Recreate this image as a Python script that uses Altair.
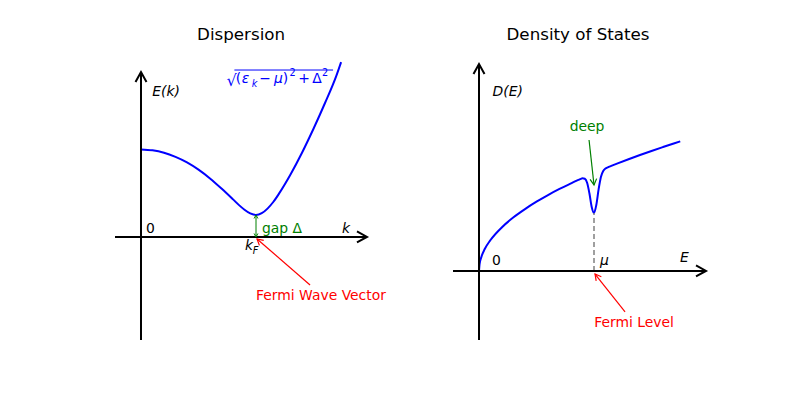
import math
import altair as alt
import pandas as pd

# ---------------- data ----------------
# Dispersion: k in units of k_F, E in units of the gap Δ
disp_k = [0.0, 0.1, 0.2, 0.3, 0.4, 0.5, 0.6, 0.7, 0.8, 0.85, 0.9, 0.95, 1.0,
          1.05, 1.1, 1.15, 1.2, 1.3, 1.4, 1.5, 1.6, 1.7, 1.74]
disp_E = [3.98, 3.94, 3.83, 3.64, 3.39, 3.06, 2.66, 2.20, 1.71, 1.46, 1.24, 1.07, 1.0,
          1.08, 1.29, 1.59, 1.97, 2.84, 3.83, 4.92, 6.09, 7.35, 7.95]

# Density of states: E in units of μ
dos_E = [0, 0.005, 0.02, 0.05, 0.1, 0.2, 0.3, 0.4, 0.5, 0.6, 0.7, 0.8, 0.85, 0.88,
         0.9, 0.92, 0.94, 0.96, 0.98, 1.0, 1.02, 1.04, 1.06, 1.08, 1.1, 1.12, 1.15,
         1.2, 1.3, 1.4, 1.5, 1.6, 1.7, 1.75]
dos_D = [0, 0.071, 0.141, 0.224, 0.316, 0.447, 0.548, 0.632, 0.707, 0.775, 0.837,
         0.894, 0.922, 0.938, 0.946, 0.941, 0.900, 0.793, 0.654, 0.592, 0.674, 0.833,
         0.960, 1.021, 1.046, 1.058, 1.072, 1.095, 1.140, 1.183, 1.225, 1.265, 1.304, 1.323]

# annotation anchors (data units)
p1_axes = [(-0.226, 0.0, 1.965, 0.0), (0.0, -4.68, 0.0, 7.5)]
p1_red_arrow = [(1.47, -2.18, 1.009, -0.09)]
p1_gap_arrow = [(1.0, 0.0, 1.0, 1.0)]
p1_sqrt_bar = [(0.812, 7.59, 1.670, 7.59)]
p2_axes = [(-0.226, 0.0, 1.974, 0.0), (0.0, -0.704, 0.0, 2.112)]
p2_red_arrow = [(1.27, -0.418, 1.009, -0.031)]
p2_green_arrow = [(0.957, 1.337, 1.0, 0.878)]
p2_dash = [(1.0, 0.0, 1.0, 0.592)]

# formula glyphs (centre k, centre E, glyph)
formula_up = [(0.848, 7.18, "("), (1.078, 7.18, "−"), (1.257, 7.18, ")"),
              (1.417, 7.18, "+"), (1.530, 7.18, "Δ")]
formula_it = [(0.909, 7.18, "ε"), (1.196, 7.18, "μ")]
formula_sub = [(0.987, 6.97, "k")]
formula_sup = [(1.317, 7.47, "2"), (1.600, 7.47, "2")]
formula_root = [(0.787, 7.10, "√")]

# ---------------- layout ----------------
W = H = 380
P1_X = [-1.1565, 2.1478]
P1_Y = [-6.864, 10.409]
P2_X = [-0.7913, 2.513]
P2_Y = [-1.194, 2.6837]

FONT = "DejaVu Sans"
FS = 13.9
ARROW = "M-1,-0.55L0,0L-1,0.55"
BLUE = "#0000ff"
GREEN = "#008000"
RED = "#ff0000"


def xy(xd, yd):
    return dict(
        x=alt.X("x:Q", scale=alt.Scale(domain=xd, nice=False, zero=False), axis=None),
        y=alt.Y("y:Q", scale=alt.Scale(domain=yd, nice=False, zero=False), axis=None),
    )


def seg_layers(segs, xd, yd, color, sw, head_r, dash=None, heads="end"):
    sx = W / (xd[1] - xd[0])
    sy = H / (yd[1] - yd[0])
    df = pd.DataFrame(segs, columns=["x", "y", "x2", "y2"])
    kw = dict(color=color, strokeWidth=sw)
    if dash:
        kw["strokeDash"] = dash
    layers = [alt.Chart(df).mark_rule(**kw).encode(**xy(xd, yd), x2="x2:Q", y2="y2:Q")]
    if heads:
        rows = []
        for (x1, y1, x2, y2) in segs:
            ang = math.degrees(math.atan2(-(y2 - y1) * sy, (x2 - x1) * sx)) % 360
            rows.append({"x": x2, "y": y2, "a": ang})
            if heads == "both":
                rows.append({"x": x1, "y": y1, "a": (ang + 180) % 360})
        hd = pd.DataFrame(rows)
        layers.append(
            alt.Chart(hd).mark_point(shape=ARROW, filled=False, stroke=color,
                                     strokeWidth=sw, size=(2 * head_r) ** 2, opacity=1)
            .encode(**xy(xd, yd), angle=alt.Angle("a:Q", scale=None))
        )
    return layers


def text_layer(rows, xd, yd, color="black", size=FS, style="normal", align="left"):
    df = pd.DataFrame(rows, columns=["x", "y", "t"])
    return alt.Chart(df).mark_text(align=align, baseline="middle", font=FONT,
                                   fontSize=size, fontStyle=style, color=color).encode(
        **xy(xd, yd), text="t:N")


# ---------------- panel 1: Dispersion ----------------
d1 = pd.DataFrame({"x": disp_k, "y": disp_E})
p1 = [
    alt.Chart(d1).mark_line(color=BLUE, strokeWidth=2, interpolate="monotone").encode(**xy(P1_X, P1_Y)),
]
p1 += seg_layers(p1_axes, P1_X, P1_Y, "black", 2, 10)
p1 += seg_layers(p1_red_arrow, P1_X, P1_Y, RED, 1.2, 6)
p1 += seg_layers(p1_gap_arrow, P1_X, P1_Y, GREEN, 1, 3.5, heads="both")
p1 += seg_layers(p1_sqrt_bar, P1_X, P1_Y, BLUE, 1, 0, heads=None)
p1 += [
    text_layer([(0.87, 9.18, "Dispersion")], P1_X, P1_Y, size=16.7, align="center"),
    text_layer([(0.043, 0.36, "0")], P1_X, P1_Y),
    text_layer([(0.098, 6.6, "E(k)"), (1.748, 0.36, "k"), (0.904, -0.42, "k")], P1_X, P1_Y, style="italic"),
    text_layer([(0.972, -0.62, "F")], P1_X, P1_Y, size=9.7, style="italic"),
    text_layer([(1.052, 0.36, "gap Δ")], P1_X, P1_Y, color=GREEN),
    text_layer([(1.565, -2.68, "Fermi Wave Vector")], P1_X, P1_Y, color=RED, align="center"),
    text_layer(formula_root, P1_X, P1_Y, color=BLUE, size=16, align="center"),
    text_layer(formula_up, P1_X, P1_Y, color=BLUE, align="center"),
    text_layer(formula_it, P1_X, P1_Y, color=BLUE, style="italic", align="center"),
    text_layer(formula_sub, P1_X, P1_Y, color=BLUE, size=9.7, style="italic", align="center"),
    text_layer(formula_sup, P1_X, P1_Y, color=BLUE, size=9.7, align="center"),
]
panel1 = alt.layer(*p1).properties(width=W, height=H)

# ---------------- panel 2: Density of States ----------------
d2 = pd.DataFrame({"x": dos_E, "y": dos_D})
p2 = [
    alt.Chart(d2).mark_line(color=BLUE, strokeWidth=2, interpolate="monotone").encode(**xy(P2_X, P2_Y)),
]
p2 += seg_layers(p2_dash, P2_X, P2_Y, "#808080", 1.5, 0, dash=[5, 3], heads=None)
p2 += seg_layers(p2_axes, P2_X, P2_Y, "black", 2, 10)
p2 += seg_layers(p2_red_arrow, P2_X, P2_Y, RED, 1.2, 6)
p2 += seg_layers(p2_green_arrow, P2_X, P2_Y, GREEN, 1.2, 6)
p2 += [
    text_layer([(0.861, 2.408, "Density of States")], P2_X, P2_Y, size=16.7, align="center"),
    text_layer([(0.113, 0.102, "0")], P2_X, P2_Y),
    text_layer([(0.118, 1.83, "D(E)"), (1.052, 0.102, "μ"), (1.748, 0.13, "E")], P2_X, P2_Y, style="italic"),
    text_layer([(0.939, 1.469, "deep")], P2_X, P2_Y, color=GREEN, align="center"),
    text_layer([(1.348, -0.531, "Fermi Level")], P2_X, P2_Y, color=RED, align="center"),
]
panel2 = alt.layer(*p2).properties(width=W, height=H)

chart = alt.hconcat(panel1, panel2, spacing=0, bounds="flush").properties(
    padding=0
).configure_view(stroke=None)

chart.save("out.html", embed_options={"renderer": "svg", "actions": False})
